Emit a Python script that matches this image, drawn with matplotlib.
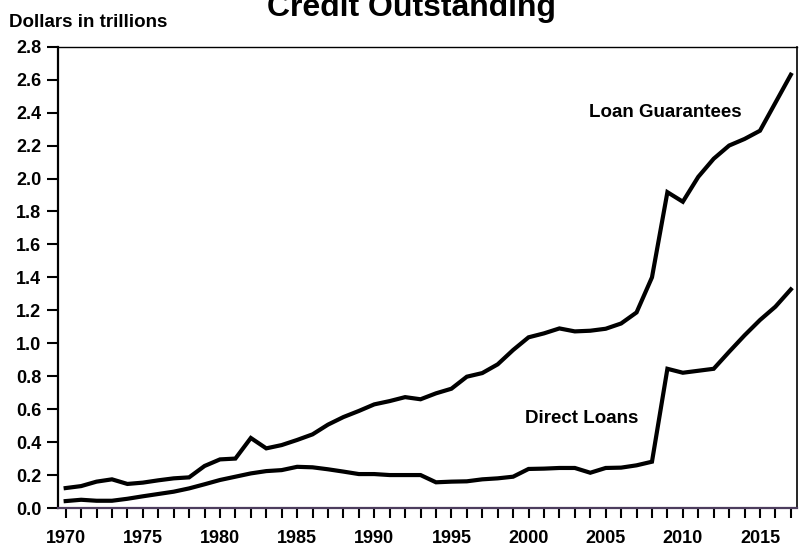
import matplotlib
matplotlib.use('Agg')
import matplotlib.pyplot as plt
import numpy as np

plt.rcParams['font.family'] = ['Liberation Sans', 'DejaVu Sans']
plt.rcParams['font.weight'] = 'bold'

years = np.arange(1970, 2018)

# Dollars in trillions
loan_guarantees = [0.121, 0.133, 0.160, 0.174, 0.146, 0.154, 0.168, 0.180, 0.186, 0.255,
                   0.295, 0.300, 0.425, 0.362, 0.382, 0.413, 0.447, 0.506, 0.552, 0.589,
                   0.629, 0.649, 0.673, 0.660, 0.696, 0.724, 0.797, 0.819, 0.872, 0.959,
                   1.036, 1.060, 1.090, 1.072, 1.076, 1.088, 1.120, 1.187, 1.400, 1.917,
                   1.859, 2.010, 2.120, 2.200, 2.240, 2.290, 2.460, 2.630]
direct_loans = [0.042, 0.050, 0.044, 0.044, 0.056, 0.071, 0.085, 0.099, 0.119, 0.144,
                0.170, 0.190, 0.210, 0.224, 0.230, 0.250, 0.247, 0.235, 0.221, 0.206,
                0.206, 0.200, 0.200, 0.200, 0.156, 0.160, 0.162, 0.174, 0.180, 0.190,
                0.237, 0.239, 0.243, 0.243, 0.214, 0.243, 0.245, 0.259, 0.281, 0.845,
                0.821, 0.833, 0.845, 0.948, 1.048, 1.141, 1.222, 1.327]

ytick_vals = np.arange(0, 2.81, 0.2)

fig = plt.figure(figsize=(8.04, 5.58), dpi=100)
ax = fig.add_axes([0.0721, 0.0896, 0.9192, 0.8267])

ax.plot(years, loan_guarantees, color='black', lw=3, solid_joinstyle='miter')
ax.plot(years, direct_loans, color='black', lw=3, solid_joinstyle='miter')

ax.set_xlim(1969.5, 2017.4)
ax.set_ylim(0, 2.8)

ax.set_yticks(ytick_vals)
ax.set_yticklabels(['%.1f' % v for v in ytick_vals], fontsize=13, fontweight='bold')
ax.set_xticks(years)
ax.set_xticklabels([str(y) if y % 5 == 0 else '' for y in years], fontsize=13, fontweight='bold')
ax.tick_params(axis='y', direction='out', length=8, width=1.5, pad=4)
ax.tick_params(axis='x', direction='out', length=7, width=1.5, pad=9)

ax.spines['left'].set_linewidth(1.6)
ax.spines['bottom'].set_linewidth(1.6)
ax.spines['bottom'].set_color('#4d3d5e')
ax.spines['top'].set_linewidth(1.0)
ax.spines['right'].set_linewidth(1.2)

ax.text(2003.9, 2.40, 'Loan Guarantees', fontsize=13.5, fontweight='bold', va='center', ha='left')
ax.text(1999.8, 0.546, 'Direct Loans', fontsize=13.5, fontweight='bold', va='center', ha='left')

fig.text(0.512, 0.971, 'Credit Outstanding', fontsize=23, fontweight='bold', ha='center', va='baseline')
fig.text(0.011, 0.952, 'Dollars in trillions', fontsize=13.5, fontweight='bold', ha='left', va='baseline')

fig.savefig('out.png', dpi=100)
